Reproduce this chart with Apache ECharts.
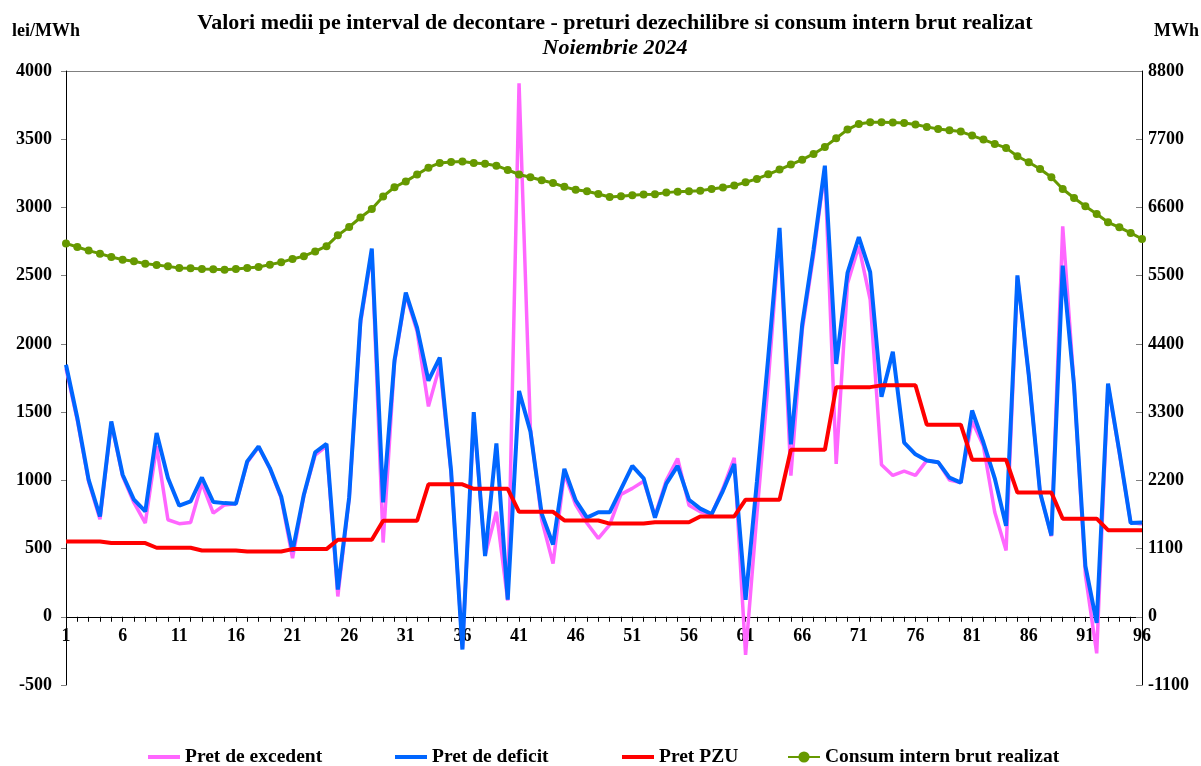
<!DOCTYPE html>
<html>
<head>
<meta charset="utf-8">
<script src="https://cdn.jsdelivr.net/npm/echarts@6/dist/echarts.min.js"></script>
<style>
html,body{margin:0;padding:0;background:#fff;}
#chart{width:1201px;height:766px;}
</style>
</head>
<body>
<div id="chart"></div>
<script>
// ---- Data ----
var categories = [];
for (var k = 1; k <= 96; k++) categories.push(String(k));

var pretExcedent = [1820,1440,990,715,1420,1030,836,687,1249,711,682,691,980,760,820,828,1130,1245,1085,870,430,890,1185,1250,149,870,2150,2680,544,1860,2360,2090,1542,1840,1060,-230,1470,450,770,120,3910,1380,711,390,1050,820,685,575,674,897,941,994,740,1000,1160,818,770,750,940,1164,-279,750,1720,2820,1035,2100,2650,3280,1120,2442,2717,2324,1114,1036,1067,1036,1146,1133,1002,983,1434,1251,766,486,2490,1770,910,590,2861,1700,308,-268,1700,1200,690,680];

var pretDeficit = [1847,1457,1004,735,1432,1041,858,772,1347,1017,814,845,1021,841,833,828,1139,1249,1090,882,479,895,1205,1267,200,875,2174,2699,839,1878,2376,2117,1730,1900,1070,-240,1500,445,1270,125,1655,1359,755,530,1084,853,727,766,766,936,1106,1015,727,976,1106,858,793,753,923,1120,125,990,1900,2850,1264,2141,2691,3306,1853,2520,2782,2526,1612,1942,1277,1191,1146,1133,1020,983,1512,1277,1015,666,2502,1774,910,596,2573,1696,373,-45,1709,1211,688,691];

var pretPZU = [552,552,552,552,540,540,540,540,506,506,506,506,486,486,486,486,479,479,479,479,496,496,496,496,564,564,564,564,704,704,704,704,971,971,971,971,938,938,938,938,769,769,769,769,706,706,706,706,683,683,683,683,693,693,693,693,735,735,735,735,858,858,858,858,1224,1224,1224,1224,1683,1683,1683,1683,1696,1696,1696,1696,1408,1408,1408,1408,1151,1151,1151,1151,910,910,910,910,719,719,719,719,635,635,635,635];

var consum = [6020,5963,5904,5855,5802,5758,5731,5694,5673,5650,5624,5618,5608,5603,5597,5608,5624,5640,5678,5715,5770,5815,5890,5975,6150,6285,6438,6575,6778,6926,7020,7131,7242,7317,7334,7341,7317,7304,7273,7205,7131,7088,7038,6994,6932,6886,6862,6816,6769,6780,6796,6807,6812,6839,6855,6860,6871,6898,6920,6952,7006,7060,7135,7210,7291,7371,7463,7576,7715,7855,7947,7973,7973,7968,7962,7936,7899,7866,7844,7823,7759,7694,7624,7560,7425,7328,7221,7086,6898,6753,6618,6495,6360,6280,6189,6092];

var seriesNames = ['Pret de excedent','Pret de deficit','Pret PZU','Consum intern brut realizat'];
var titleText = 'Valori medii pe interval de decontare - preturi dezechilibre si consum intern brut realizat';
var subtitleText = 'Noiembrie 2024';
var leftUnit = 'lei/MWh';
var rightUnit = 'MWh';

// ---- Chart ----
var FONT = '"Liberation Serif", "Times New Roman", serif';
var chart = echarts.init(document.getElementById('chart'), null, {renderer: 'canvas'});

var splitColors = [];
for (var s = 0; s < 10; s++) splitColors.push(s === 9 ? '#808080' : 'rgba(0,0,0,0)');

function plain(v) { return String(v); }

var legendTxt = {fontFamily: FONT, fontWeight: 'bold', fontSize: 19.5, color: '#000'};
function mkLegend(name, left, lineIcon) {
  var l = {data: [name], left: left, top: 747, itemWidth: 32, itemHeight: 14, itemGap: 0,
           textStyle: legendTxt, selectedMode: false, padding: 0};
  if (lineIcon) { l.icon = 'rect'; l.itemHeight = 4; }
  return l;
}

var option = {
  animation: false,
  backgroundColor: '#fff',
  title: [
    {text: titleText, left: 610, textAlign: 'center', top: 7,
     textStyle: {fontFamily: FONT, fontWeight: 'bold', fontSize: 22, color: '#000'}},
    {text: subtitleText, left: 610, textAlign: 'center', top: 32,
     textStyle: {fontFamily: FONT, fontWeight: 'bold', fontStyle: 'italic', fontSize: 22, color: '#000'}},
    {text: leftUnit, left: 12, top: 22, padding: 0,
     textStyle: {fontFamily: FONT, fontWeight: 'bold', fontSize: 18, color: '#000'}},
    {text: rightUnit, right: 2, top: 22, padding: 0,
     textStyle: {fontFamily: FONT, fontWeight: 'bold', fontSize: 18, color: '#000'}}
  ],
  legend: [
    mkLegend(seriesNames[0], 148, true),
    mkLegend(seriesNames[1], 395, true),
    mkLegend(seriesNames[2], 622, true),
    mkLegend(seriesNames[3], 787, false)
  ],
  grid: {left: 66, right: 59, top: 71, bottom: 81, containLabel: false},
  xAxis: {
    type: 'category', data: categories, boundaryGap: false,
    position: 'bottom', offset: -68.22,
    axisLine: {onZero: false, lineStyle: {color: '#000', width: 1}},
    axisTick: {show: true, interval: 0, length: 5, lineStyle: {color: '#000'}},
    axisLabel: {interval: 4, margin: 11, fontFamily: FONT, fontWeight: 'bold', fontSize: 18, color: '#000'},
    splitLine: {show: false}
  },
  yAxis: [
    {type: 'value', min: -500, max: 4000, interval: 500, position: 'left',
     axisLine: {show: true, lineStyle: {color: '#000'}},
     axisTick: {show: true, length: 5, lineStyle: {color: '#808080'}},
     axisLabel: {margin: 14, formatter: plain, fontFamily: FONT, fontWeight: 'bold', fontSize: 18, color: '#000'},
     splitLine: {show: true, lineStyle: {color: splitColors, width: 1}}
    },
    {type: 'value', min: -1100, max: 8800, interval: 1100, position: 'right',
     axisLine: {show: true, lineStyle: {color: '#000'}},
     axisTick: {show: true, inside: true, length: 6, lineStyle: {color: '#808080'}},
     axisLabel: {margin: 6, formatter: plain, fontFamily: FONT, fontWeight: 'bold', fontSize: 18, color: '#000'},
     splitLine: {show: false}
    }
  ],
  series: [
    {name: seriesNames[0], type: 'line', yAxisIndex: 0, data: pretExcedent,
     showSymbol: false, symbol: 'none', lineStyle: {color: '#FF66FF', width: 3.5}, itemStyle: {color: '#FF66FF'}, z: 2},
    {name: seriesNames[1], type: 'line', yAxisIndex: 0, data: pretDeficit,
     showSymbol: false, symbol: 'none', lineStyle: {color: '#0066FF', width: 4}, itemStyle: {color: '#0066FF'}, z: 3},
    {name: seriesNames[2], type: 'line', yAxisIndex: 0, data: pretPZU,
     showSymbol: false, symbol: 'none', lineStyle: {color: '#FF0000', width: 4}, itemStyle: {color: '#FF0000'}, z: 4},
    {name: seriesNames[3], type: 'line', yAxisIndex: 1, data: consum,
     symbol: 'circle', symbolSize: 8, showSymbol: true, showAllSymbol: true,
     lineStyle: {color: '#669900', width: 3}, itemStyle: {color: '#669900'}, z: 5}
  ]
};
chart.setOption(option);
</script>
</body>
</html>
